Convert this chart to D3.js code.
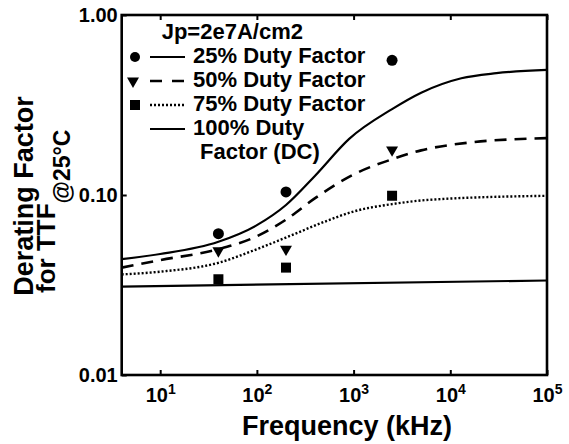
<!DOCTYPE html>
<html><head><meta charset="utf-8">
<script src="https://cdn.jsdelivr.net/npm/d3@7"></script>
<style>
html,body{margin:0;padding:0;background:#fff;}
svg{display:block;font-family:"Liberation Sans",Arial,Helvetica,sans-serif;font-weight:bold;}
</style></head><body>
<svg id="chart" width="569" height="444"></svg>
<script>
// ---- data ----
const xTicks = [10, 100, 1000, 10000, 100000];
const xTickExp = ["1", "2", "3", "4", "5"];
const yTicks = [0.01, 0.1, 1];
const yTickLabels = ["0.01", "0.10", "1.00"];

const freq25 = [4, 10, 40, 100, 200, 400, 900, 2500, 5000, 13000, 30000, 100000];
const val25  = [0.044, 0.047, 0.055, 0.068, 0.088, 0.128, 0.205, 0.30, 0.37, 0.445, 0.475, 0.495];

const freq50 = [4, 10, 40, 100, 200, 400, 1000, 2500, 5000, 15000, 100000];
const val50  = [0.0395, 0.0435, 0.050, 0.059, 0.073, 0.096, 0.13, 0.158, 0.177, 0.195, 0.207];

const freq75 = [4, 10, 40, 100, 200, 500, 1000, 2500, 6000, 100000];
const val75  = [0.0362, 0.0375, 0.042, 0.050, 0.058, 0.071, 0.081, 0.089, 0.094, 0.099];

const freqDC = [4, 100000];
const valDC  = [0.031, 0.0335];

const markerFreq    = [40, 200, 2500];
const circleVals    = [0.061, 0.104, 0.56];
const triangleVals  = [0.049, 0.050, 0.178];
const squareVals    = [0.034, 0.0395, 0.099];

const legendTitle = "Jp=2e7A/cm2";
const legendLabels = ["25% Duty Factor", "50% Duty Factor", "75% Duty Factor", "100% Duty", "Factor (DC)"];

// ---- layout ----
const mL = 121.7, mR = 547, mT = 15, mB = 375;
const svg = d3.select("#chart");
const x = d3.scaleLog().domain([4, 100000]).range([mL, mR]);
const y = d3.scaleLog().domain([0.01, 1]).range([mB, mT]);

// x axis
const gx = svg.append("g").attr("transform", `translate(0,${mB})`)
  .call(d3.axisBottom(x).tickValues(xTicks).tickSizeInner(-5).tickSizeOuter(0).tickFormat(() => ""));
gx.attr("font-family", null).attr("font-size", null);
gx.select(".domain").remove();
gx.selectAll(".tick line").attr("stroke", "#000").attr("stroke-width", 2);
gx.selectAll(".tick text").each(function(d, i) {
  const t = d3.select(this);
  t.text(null).attr("y", 27).attr("dy", null).attr("fill", "#000")
   .attr("font-size", 20).attr("text-anchor", "middle");
  t.append("tspan").text("10");
  t.append("tspan").attr("dy", -8).attr("font-size", 14).text(xTickExp[i]);
});
// top ticks
const gxt = svg.append("g").attr("transform", `translate(0,${mT})`)
  .call(d3.axisTop(x).tickValues(xTicks).tickSizeInner(-5).tickSizeOuter(0).tickFormat(() => ""));
gxt.select(".domain").remove();
gxt.selectAll(".tick line").attr("stroke", "#000").attr("stroke-width", 2);

// y axis
const gy = svg.append("g").attr("transform", `translate(${mL},0)`)
  .call(d3.axisLeft(y).tickValues(yTicks).tickSizeInner(-5).tickSizeOuter(0).tickPadding(4)
    .tickFormat((d, i) => yTickLabels[i]));
gy.attr("font-family", null).attr("font-size", null);
gy.select(".domain").remove();
gy.selectAll(".tick line").attr("stroke", "#000").attr("stroke-width", 2);
gy.selectAll(".tick text").attr("font-size", 20).attr("fill", "#000");

// frame
svg.append("rect").attr("x", mL).attr("y", mT).attr("width", mR - mL).attr("height", mB - mT)
  .attr("fill", "none").attr("stroke", "#000").attr("stroke-width", 2.6);

// clip
svg.append("clipPath").attr("id", "clip").append("rect")
  .attr("x", mL).attr("y", mT).attr("width", mR - mL).attr("height", mB - mT);
const plot = svg.append("g").attr("clip-path", "url(#clip)");

const line = d3.line().x(d => x(d[0])).y(d => y(d[1])).curve(d3.curveMonotoneX);
const zip = (a, b) => a.map((v, i) => [v, b[i]]);

plot.append("path").datum(zip(freq25, val25)).attr("d", line)
  .attr("fill", "none").attr("stroke", "#000").attr("stroke-width", 2.2);
plot.append("path").datum(zip(freq50, val50)).attr("d", line)
  .attr("fill", "none").attr("stroke", "#000").attr("stroke-width", 2.6).attr("stroke-dasharray", "12,8");
plot.append("path").datum(zip(freq75, val75)).attr("d", line)
  .attr("fill", "none").attr("stroke", "#000").attr("stroke-width", 2.4).attr("stroke-dasharray", "2,2");
plot.append("path").datum(zip(freqDC, valDC)).attr("d", line)
  .attr("fill", "none").attr("stroke", "#000").attr("stroke-width", 2.2);

// markers
plot.selectAll(".c").data(zip(markerFreq, circleVals)).enter().append("circle")
  .attr("cx", d => x(d[0])).attr("cy", d => y(d[1])).attr("r", 5.5).attr("fill", "#000");
const tri = d3.symbol().type(d3.symbolTriangle).size(62);
plot.selectAll(".t").data(zip(markerFreq, triangleVals)).enter().append("path")
  .attr("d", tri).attr("fill", "#000")
  .attr("transform", d => `translate(${x(d[0])},${y(d[1])}) rotate(180)`);
const sq = d3.symbol().type(d3.symbolSquare).size(100);
plot.selectAll(".s").data(zip(markerFreq, squareVals)).enter().append("path")
  .attr("d", sq).attr("fill", "#000")
  .attr("transform", d => `translate(${x(d[0])},${y(d[1])})`);

// legend
const lg = svg.append("g");
const fs = 22;
lg.append("text").attr("x", 161.7).attr("y", 39).attr("font-size", fs).text(legendTitle);
const rowsY = [63, 87, 111, 135, 159];
legendLabels.forEach((lab, i) => {
  lg.append("text").attr("x", i === 4 ? 200 : 193).attr("y", rowsY[i]).attr("font-size", fs).text(lab);
});
const ly = rowsY.map(v => v - 6);
lg.append("circle").attr("cx", 135).attr("cy", ly[0]).attr("r", 5).attr("fill", "#000");
lg.append("line").attr("x1", 150).attr("x2", 185).attr("y1", ly[0]).attr("y2", ly[0]).attr("stroke", "#000").attr("stroke-width", 2.2);
lg.append("path").attr("d", tri).attr("fill", "#000").attr("transform", `translate(133,${ly[1]}) rotate(180)`);
lg.append("line").attr("x1", 150).attr("x2", 185).attr("y1", ly[1]).attr("y2", ly[1]).attr("stroke", "#000").attr("stroke-width", 2.6).attr("stroke-dasharray", "12,10");
lg.append("path").attr("d", sq).attr("fill", "#000").attr("transform", `translate(135,${ly[2]})`);
lg.append("line").attr("x1", 150).attr("x2", 185).attr("y1", ly[2]).attr("y2", ly[2]).attr("stroke", "#000").attr("stroke-width", 2.4).attr("stroke-dasharray", "2,2");
lg.append("line").attr("x1", 150).attr("x2", 185).attr("y1", ly[3]).attr("y2", ly[3]).attr("stroke", "#000").attr("stroke-width", 2.2);

// axis titles
svg.append("text").attr("x", 347).attr("y", 435).attr("text-anchor", "middle").attr("font-size", 27)
  .text("Frequency (kHz)");
svg.append("text").attr("transform", "rotate(-90)").attr("x", -196).attr("y", 33)
  .attr("text-anchor", "middle").attr("font-size", 27).text("Derating Factor");
const yl2 = svg.append("text").attr("transform", "rotate(-90)").attr("x", -293).attr("y", 55)
  .attr("font-size", 26);
yl2.append("tspan").text("for TTF");
yl2.append("tspan").attr("dy", 15).attr("font-size", 23).text("@25°C");
</script>
</body></html>
